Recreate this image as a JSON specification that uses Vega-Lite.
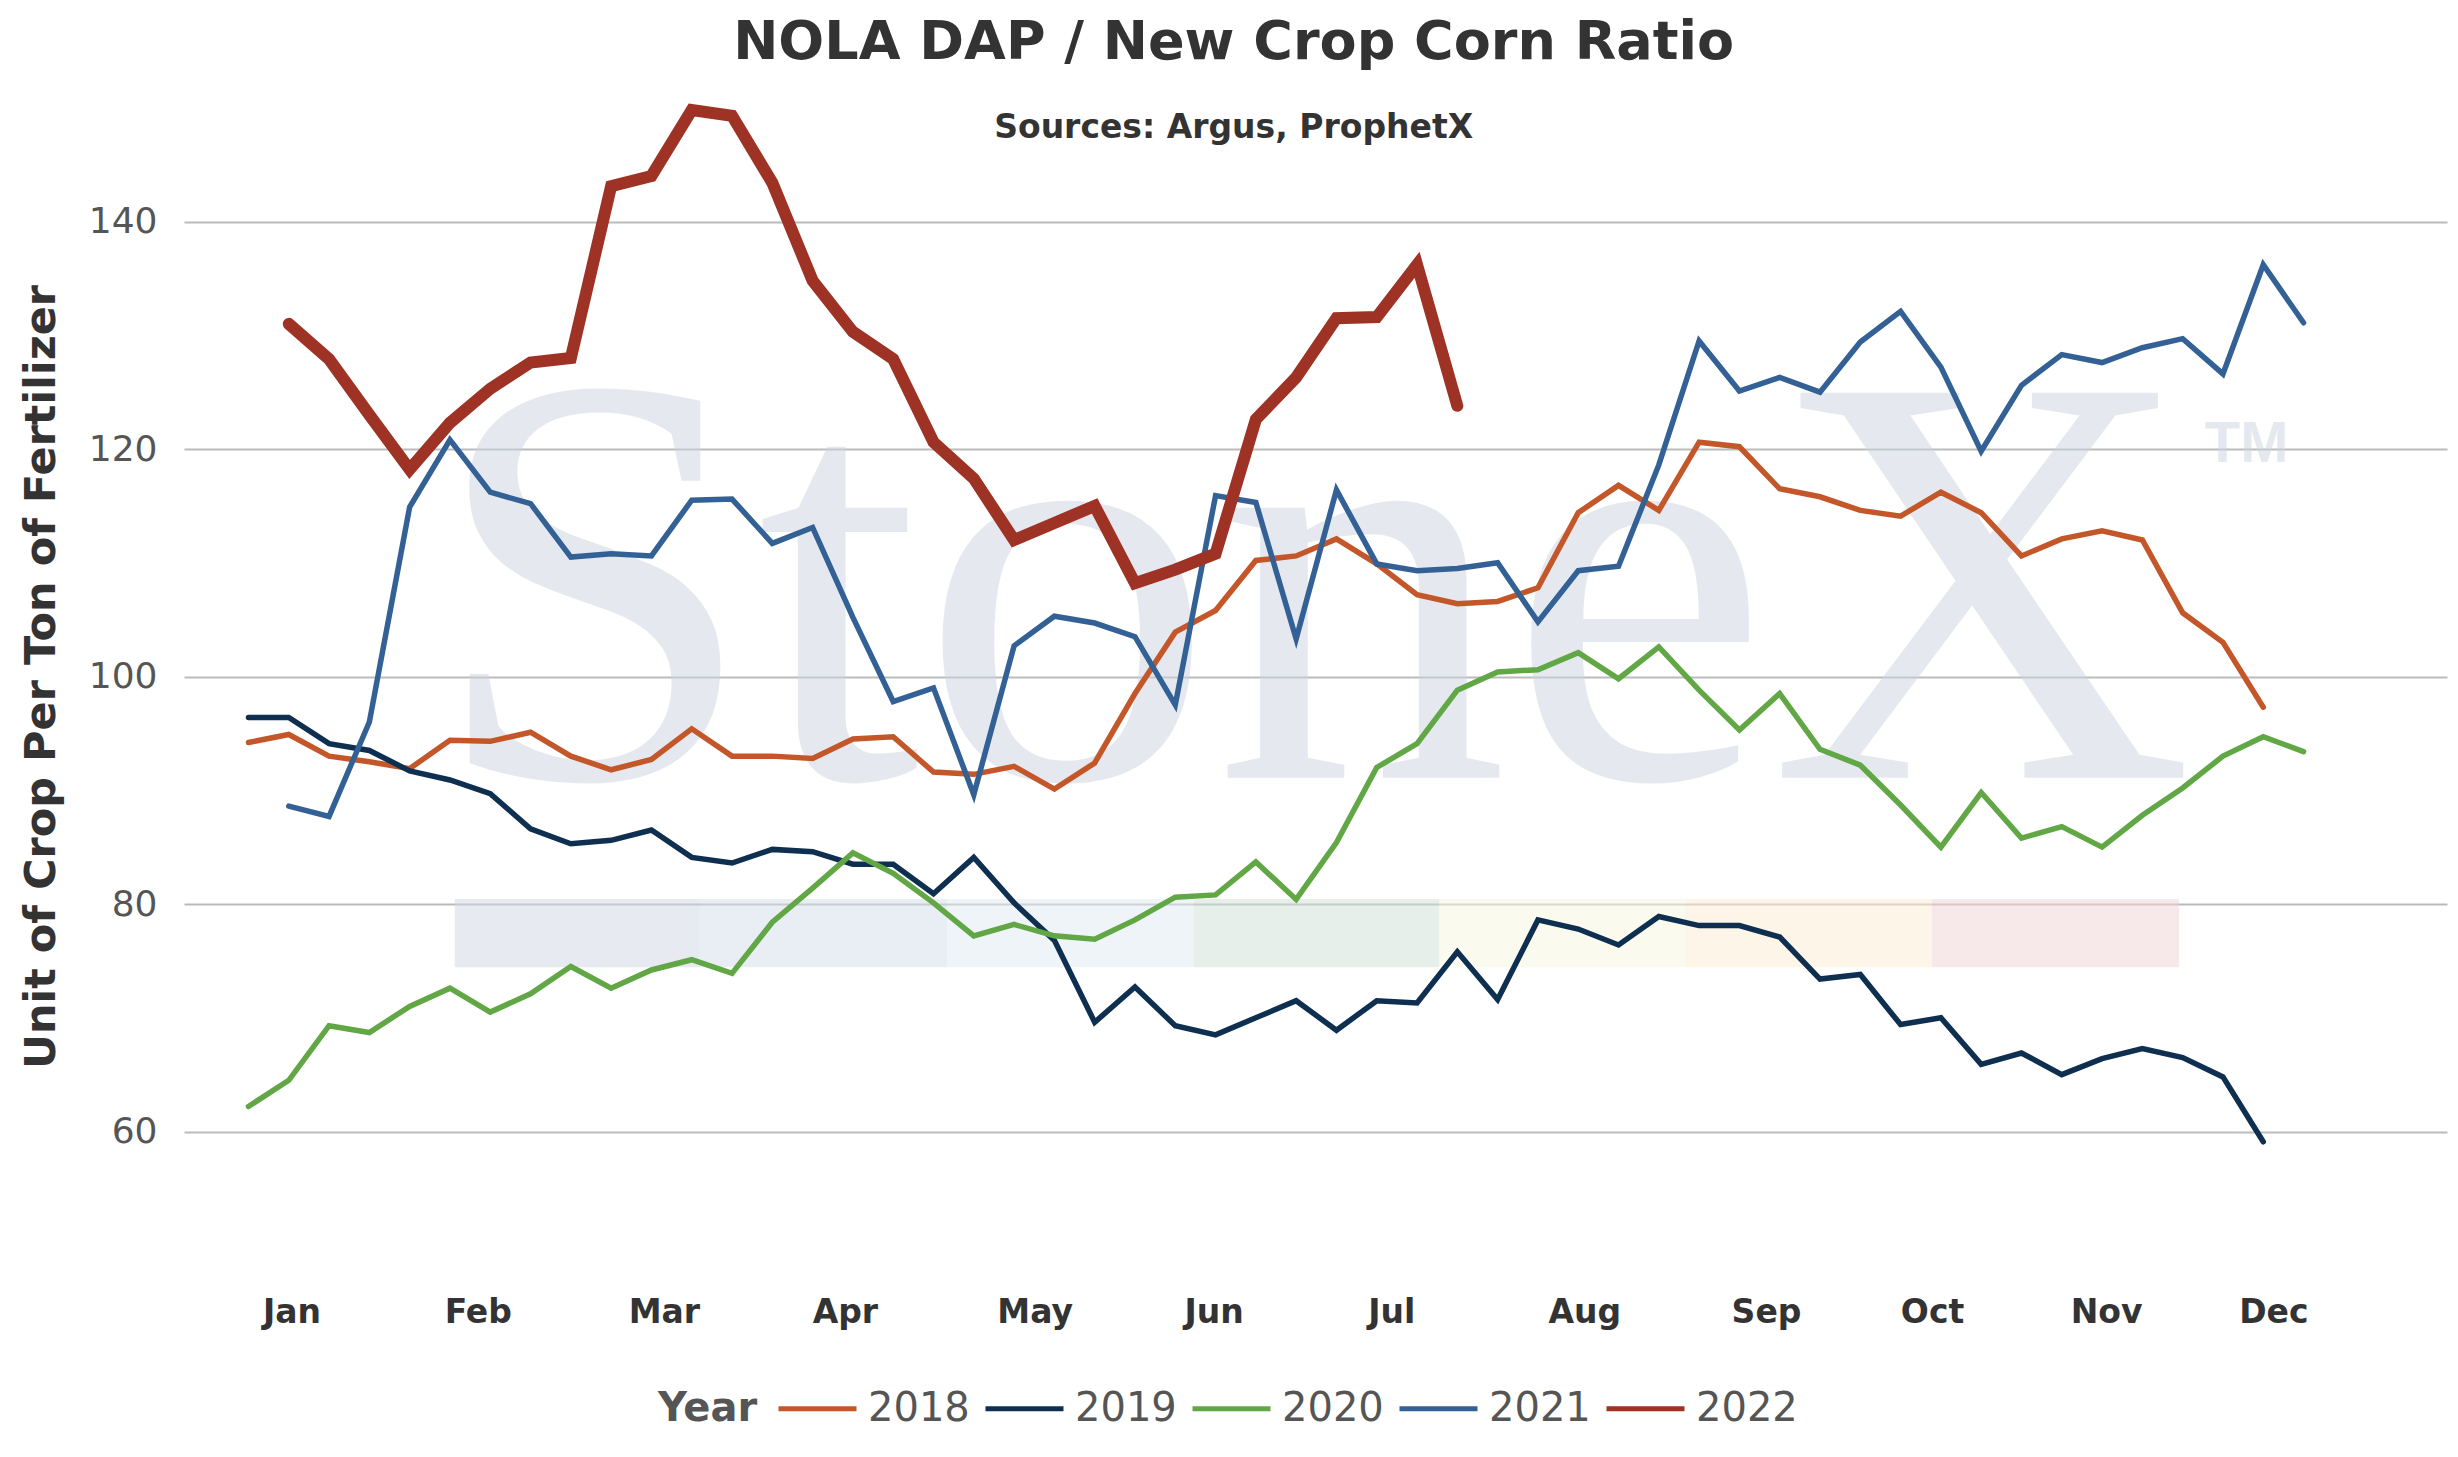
{
  "$schema": "https://vega.github.io/schema/vega-lite/v6.json",
  "width": 2263,
  "height": 1183,
  "autosize": {"type": "none"},
  "padding": {"left": 184, "top": 85, "right": 11, "bottom": 189},
  "background": "white",
  "title": {
    "text": "NOLA DAP / New Crop Corn Ratio",
    "subtitle": "Sources: Argus, ProphetX",
    "anchor": "middle",
    "frame": "bounds",
    "font": "DejaVu Sans",
    "fontSize": 54,
    "fontWeight": "bold",
    "color": "#333333",
    "subtitleFont": "DejaVu Sans",
    "subtitleFontSize": 33,
    "subtitleFontWeight": "bold",
    "subtitleColor": "#333333",
    "subtitlePadding": 42,
    "offset": -60
  },
  "datasets": {
    "band": [
      {"block": "1", "start": 5.12, "end": 11.2},
      {"block": "2", "start": 11.2, "end": 17.34},
      {"block": "3", "start": 17.34, "end": 23.46},
      {"block": "4", "start": 23.46, "end": 29.55},
      {"block": "5", "start": 29.55, "end": 35.66},
      {"block": "6", "start": 35.66, "end": 41.78},
      {"block": "7", "start": 41.78, "end": 47.91}
    ],
    "ratio": [
      {"year": "2018", "week": 0, "value": 94.2}, {"year": "2018", "week": 1, "value": 94.9}, {"year": "2018", "week": 2, "value": 93.0}, {"year": "2018", "week": 3, "value": 92.5}, {"year": "2018", "week": 4, "value": 91.9},
      {"year": "2018", "week": 5, "value": 94.4}, {"year": "2018", "week": 6, "value": 94.3}, {"year": "2018", "week": 7, "value": 95.1}, {"year": "2018", "week": 8, "value": 93.0}, {"year": "2018", "week": 9, "value": 91.8},
      {"year": "2018", "week": 10, "value": 92.7}, {"year": "2018", "week": 11, "value": 95.4}, {"year": "2018", "week": 12, "value": 93.0}, {"year": "2018", "week": 13, "value": 93.0}, {"year": "2018", "week": 14, "value": 92.8},
      {"year": "2018", "week": 15, "value": 94.5}, {"year": "2018", "week": 16, "value": 94.7}, {"year": "2018", "week": 17, "value": 91.6}, {"year": "2018", "week": 18, "value": 91.4}, {"year": "2018", "week": 19, "value": 92.1},
      {"year": "2018", "week": 20, "value": 90.1}, {"year": "2018", "week": 21, "value": 92.4}, {"year": "2018", "week": 22, "value": 98.5}, {"year": "2018", "week": 23, "value": 103.9}, {"year": "2018", "week": 24, "value": 105.8},
      {"year": "2018", "week": 25, "value": 110.2}, {"year": "2018", "week": 26, "value": 110.6}, {"year": "2018", "week": 27, "value": 112.1}, {"year": "2018", "week": 28, "value": 109.9}, {"year": "2018", "week": 29, "value": 107.2},
      {"year": "2018", "week": 30, "value": 106.4}, {"year": "2018", "week": 31, "value": 106.6}, {"year": "2018", "week": 32, "value": 107.8}, {"year": "2018", "week": 33, "value": 114.4}, {"year": "2018", "week": 34, "value": 116.8},
      {"year": "2018", "week": 35, "value": 114.6}, {"year": "2018", "week": 36, "value": 120.6}, {"year": "2018", "week": 37, "value": 120.2}, {"year": "2018", "week": 38, "value": 116.5}, {"year": "2018", "week": 39, "value": 115.8},
      {"year": "2018", "week": 40, "value": 114.6}, {"year": "2018", "week": 41, "value": 114.1}, {"year": "2018", "week": 42, "value": 116.2}, {"year": "2018", "week": 43, "value": 114.4}, {"year": "2018", "week": 44, "value": 110.6},
      {"year": "2018", "week": 45, "value": 112.1}, {"year": "2018", "week": 46, "value": 112.8}, {"year": "2018", "week": 47, "value": 112.0}, {"year": "2018", "week": 48, "value": 105.6}, {"year": "2018", "week": 49, "value": 103.0},
      {"year": "2018", "week": 50, "value": 97.3},
      {"year": "2019", "week": 0, "value": 96.4}, {"year": "2019", "week": 1, "value": 96.4}, {"year": "2019", "week": 2, "value": 94.1}, {"year": "2019", "week": 3, "value": 93.5}, {"year": "2019", "week": 4, "value": 91.7},
      {"year": "2019", "week": 5, "value": 90.9}, {"year": "2019", "week": 6, "value": 89.7}, {"year": "2019", "week": 7, "value": 86.6}, {"year": "2019", "week": 8, "value": 85.3}, {"year": "2019", "week": 9, "value": 85.6},
      {"year": "2019", "week": 10, "value": 86.5}, {"year": "2019", "week": 11, "value": 84.1}, {"year": "2019", "week": 12, "value": 83.6}, {"year": "2019", "week": 13, "value": 84.8}, {"year": "2019", "week": 14, "value": 84.6},
      {"year": "2019", "week": 15, "value": 83.5}, {"year": "2019", "week": 16, "value": 83.5}, {"year": "2019", "week": 17, "value": 80.9}, {"year": "2019", "week": 18, "value": 84.1}, {"year": "2019", "week": 19, "value": 80.1},
      {"year": "2019", "week": 20, "value": 76.8}, {"year": "2019", "week": 21, "value": 69.6}, {"year": "2019", "week": 22, "value": 72.7}, {"year": "2019", "week": 23, "value": 69.3}, {"year": "2019", "week": 24, "value": 68.5},
      {"year": "2019", "week": 25, "value": 70.0}, {"year": "2019", "week": 26, "value": 71.5}, {"year": "2019", "week": 27, "value": 68.9}, {"year": "2019", "week": 28, "value": 71.5}, {"year": "2019", "week": 29, "value": 71.3},
      {"year": "2019", "week": 30, "value": 75.8}, {"year": "2019", "week": 31, "value": 71.6}, {"year": "2019", "week": 32, "value": 78.6}, {"year": "2019", "week": 33, "value": 77.8}, {"year": "2019", "week": 34, "value": 76.4},
      {"year": "2019", "week": 35, "value": 78.9}, {"year": "2019", "week": 36, "value": 78.1}, {"year": "2019", "week": 37, "value": 78.1}, {"year": "2019", "week": 38, "value": 77.1}, {"year": "2019", "week": 39, "value": 73.4},
      {"year": "2019", "week": 40, "value": 73.8}, {"year": "2019", "week": 41, "value": 69.4}, {"year": "2019", "week": 42, "value": 70.0}, {"year": "2019", "week": 43, "value": 65.9}, {"year": "2019", "week": 44, "value": 66.9},
      {"year": "2019", "week": 45, "value": 65.0}, {"year": "2019", "week": 46, "value": 66.4}, {"year": "2019", "week": 47, "value": 67.3}, {"year": "2019", "week": 48, "value": 66.5}, {"year": "2019", "week": 49, "value": 64.8},
      {"year": "2019", "week": 50, "value": 59.1},
      {"year": "2020", "week": 0, "value": 62.2}, {"year": "2020", "week": 1, "value": 64.5}, {"year": "2020", "week": 2, "value": 69.3}, {"year": "2020", "week": 3, "value": 68.7}, {"year": "2020", "week": 4, "value": 71.0},
      {"year": "2020", "week": 5, "value": 72.6}, {"year": "2020", "week": 6, "value": 70.5}, {"year": "2020", "week": 7, "value": 72.1}, {"year": "2020", "week": 8, "value": 74.5}, {"year": "2020", "week": 9, "value": 72.6},
      {"year": "2020", "week": 10, "value": 74.2}, {"year": "2020", "week": 11, "value": 75.1}, {"year": "2020", "week": 12, "value": 73.9}, {"year": "2020", "week": 13, "value": 78.4}, {"year": "2020", "week": 14, "value": 81.4},
      {"year": "2020", "week": 15, "value": 84.5}, {"year": "2020", "week": 16, "value": 82.7}, {"year": "2020", "week": 17, "value": 80.1}, {"year": "2020", "week": 18, "value": 77.2}, {"year": "2020", "week": 19, "value": 78.2},
      {"year": "2020", "week": 20, "value": 77.2}, {"year": "2020", "week": 21, "value": 76.9}, {"year": "2020", "week": 22, "value": 78.6}, {"year": "2020", "week": 23, "value": 80.6}, {"year": "2020", "week": 24, "value": 80.8},
      {"year": "2020", "week": 25, "value": 83.7}, {"year": "2020", "week": 26, "value": 80.4}, {"year": "2020", "week": 27, "value": 85.4}, {"year": "2020", "week": 28, "value": 92.0}, {"year": "2020", "week": 29, "value": 94.1},
      {"year": "2020", "week": 30, "value": 98.8}, {"year": "2020", "week": 31, "value": 100.4}, {"year": "2020", "week": 32, "value": 100.6}, {"year": "2020", "week": 33, "value": 102.1}, {"year": "2020", "week": 34, "value": 99.8},
      {"year": "2020", "week": 35, "value": 102.6}, {"year": "2020", "week": 36, "value": 98.8}, {"year": "2020", "week": 37, "value": 95.3}, {"year": "2020", "week": 38, "value": 98.5}, {"year": "2020", "week": 39, "value": 93.6},
      {"year": "2020", "week": 40, "value": 92.2}, {"year": "2020", "week": 41, "value": 88.7}, {"year": "2020", "week": 42, "value": 85.0}, {"year": "2020", "week": 43, "value": 89.8}, {"year": "2020", "week": 44, "value": 85.8},
      {"year": "2020", "week": 45, "value": 86.8}, {"year": "2020", "week": 46, "value": 85.0}, {"year": "2020", "week": 47, "value": 87.8}, {"year": "2020", "week": 48, "value": 90.2}, {"year": "2020", "week": 49, "value": 93.0},
      {"year": "2020", "week": 50, "value": 94.7}, {"year": "2020", "week": 51, "value": 93.4},
      {"year": "2021", "week": 1, "value": 88.6}, {"year": "2021", "week": 2, "value": 87.7}, {"year": "2021", "week": 3, "value": 96.0}, {"year": "2021", "week": 4, "value": 114.9},
      {"year": "2021", "week": 5, "value": 120.8}, {"year": "2021", "week": 6, "value": 116.2}, {"year": "2021", "week": 7, "value": 115.2}, {"year": "2021", "week": 8, "value": 110.5}, {"year": "2021", "week": 9, "value": 110.8},
      {"year": "2021", "week": 10, "value": 110.6}, {"year": "2021", "week": 11, "value": 115.5}, {"year": "2021", "week": 12, "value": 115.6}, {"year": "2021", "week": 13, "value": 111.7}, {"year": "2021", "week": 14, "value": 113.1},
      {"year": "2021", "week": 15, "value": 105.2}, {"year": "2021", "week": 16, "value": 97.8}, {"year": "2021", "week": 17, "value": 99.0}, {"year": "2021", "week": 18, "value": 89.6}, {"year": "2021", "week": 19, "value": 102.7},
      {"year": "2021", "week": 20, "value": 105.3}, {"year": "2021", "week": 21, "value": 104.7}, {"year": "2021", "week": 22, "value": 103.5}, {"year": "2021", "week": 23, "value": 97.5}, {"year": "2021", "week": 24, "value": 115.9},
      {"year": "2021", "week": 25, "value": 115.3}, {"year": "2021", "week": 26, "value": 103.3}, {"year": "2021", "week": 27, "value": 116.4}, {"year": "2021", "week": 28, "value": 109.9}, {"year": "2021", "week": 29, "value": 109.3},
      {"year": "2021", "week": 30, "value": 109.5}, {"year": "2021", "week": 31, "value": 110.0}, {"year": "2021", "week": 32, "value": 104.8}, {"year": "2021", "week": 33, "value": 109.3}, {"year": "2021", "week": 34, "value": 109.7},
      {"year": "2021", "week": 35, "value": 118.6}, {"year": "2021", "week": 36, "value": 129.5}, {"year": "2021", "week": 37, "value": 125.1}, {"year": "2021", "week": 38, "value": 126.3}, {"year": "2021", "week": 39, "value": 125.0},
      {"year": "2021", "week": 40, "value": 129.4}, {"year": "2021", "week": 41, "value": 132.1}, {"year": "2021", "week": 42, "value": 127.2}, {"year": "2021", "week": 43, "value": 119.8}, {"year": "2021", "week": 44, "value": 125.6},
      {"year": "2021", "week": 45, "value": 128.3}, {"year": "2021", "week": 46, "value": 127.6}, {"year": "2021", "week": 47, "value": 128.9}, {"year": "2021", "week": 48, "value": 129.7}, {"year": "2021", "week": 49, "value": 126.6},
      {"year": "2021", "week": 50, "value": 136.2}, {"year": "2021", "week": 51, "value": 131.1},
      {"year": "2022", "week": 1, "value": 131.0}, {"year": "2022", "week": 2, "value": 127.9}, {"year": "2022", "week": 3, "value": 123.0}, {"year": "2022", "week": 4, "value": 118.2},
      {"year": "2022", "week": 5, "value": 122.3}, {"year": "2022", "week": 6, "value": 125.3}, {"year": "2022", "week": 7, "value": 127.6}, {"year": "2022", "week": 8, "value": 128.0}, {"year": "2022", "week": 9, "value": 143.1},
      {"year": "2022", "week": 10, "value": 144.0}, {"year": "2022", "week": 11, "value": 149.8}, {"year": "2022", "week": 12, "value": 149.3}, {"year": "2022", "week": 13, "value": 143.4}, {"year": "2022", "week": 14, "value": 134.8},
      {"year": "2022", "week": 15, "value": 130.3}, {"year": "2022", "week": 16, "value": 127.9}, {"year": "2022", "week": 17, "value": 120.6}, {"year": "2022", "week": 18, "value": 117.4}, {"year": "2022", "week": 19, "value": 112.0},
      {"year": "2022", "week": 20, "value": 113.5}, {"year": "2022", "week": 21, "value": 115.0}, {"year": "2022", "week": 22, "value": 108.2}, {"year": "2022", "week": 23, "value": 109.4}, {"year": "2022", "week": 24, "value": 110.8},
      {"year": "2022", "week": 25, "value": 122.6}, {"year": "2022", "week": 26, "value": 126.3}, {"year": "2022", "week": 27, "value": 131.5}, {"year": "2022", "week": 28, "value": 131.6}, {"year": "2022", "week": 29, "value": 136.2},
      {"year": "2022", "week": 30, "value": 123.8}
    ]
  },
  "layer": [
    {
      "data": {"name": "band"},
      "mark": {"type": "rect", "opacity": 0.5},
      "encoding": {
        "x": {"field": "start", "type": "quantitative", "scale": {"domain": [-1.6, 54.56], "nice": false, "zero": false}},
        "x2": {"field": "end"},
        "y": {"datum": 80.45, "type": "quantitative", "scale": {"domain": [48, 152], "nice": false, "zero": false}},
        "y2": {"datum": 74.45},
        "fill": {
          "field": "block",
          "type": "nominal",
          "scale": {"range": ["#cfd7e3", "#d3ddeb", "#dfe9f3", "#cddfd3", "#f5f7dd", "#fbebd1", "#efd3d3"]},
          "legend": null
        }
      }
    },
    {
      "data": {"values": [{"mark": "StoneX"}]},
      "mark": {"type": "text", "font": "Liberation Serif", "fontSize": 588, "align": "left", "baseline": "alphabetic", "color": "#cdd5e1", "opacity": 0.5},
      "encoding": {
        "text": {"field": "mark"},
        "x": {"datum": 4.5, "type": "quantitative", "scale": {"domain": [-1.6, 54.56], "nice": false, "zero": false}},
        "y": {"datum": 91.1, "type": "quantitative", "scale": {"domain": [48, 152], "nice": false, "zero": false}}
      }
    },
    {
      "data": {"values": [{"mark": "TM"}]},
      "mark": {"type": "text", "font": "Liberation Sans", "fontWeight": "bold", "fontSize": 58, "align": "left", "baseline": "alphabetic", "color": "#cdd5e1", "opacity": 0.5},
      "encoding": {
        "text": {"field": "mark"},
        "x": {"datum": 48.55, "type": "quantitative", "scale": {"domain": [-1.6, 54.56], "nice": false, "zero": false}},
        "y": {"datum": 118.9, "type": "quantitative", "scale": {"domain": [48, 152], "nice": false, "zero": false}}
      }
    },
    {
      "data": {"name": "ratio"},
      "mark": {"type": "line", "strokeCap": "round"},
      "encoding": {
        "x": {
          "field": "week",
          "type": "quantitative",
          "scale": {"domain": [-1.6, 54.56], "nice": false, "zero": false},
          "axis": {
            "title": null,
            "values": [1.07, 5.69, 10.31, 14.8, 19.51, 23.95, 28.36, 33.15, 37.66, 41.78, 46.1, 50.25],
            "labelExpr": "datum.value < 3 ? 'Jan' : datum.value < 8 ? 'Feb' : datum.value < 12 ? 'Mar' : datum.value < 17 ? 'Apr' : datum.value < 22 ? 'May' : datum.value < 26 ? 'Jun' : datum.value < 31 ? 'Jul' : datum.value < 35 ? 'Aug' : datum.value < 40 ? 'Sep' : datum.value < 44 ? 'Oct' : datum.value < 48 ? 'Nov' : 'Dec'",
            "grid": false,
            "domain": false,
            "ticks": false,
            "tickSize": 0,
            "labelFont": "DejaVu Sans",
            "labelFontSize": 33,
            "labelFontWeight": "bold",
            "labelColor": "#333333",
            "labelPadding": 28,
            "labelOverlap": false,
            "labelFlush": false,
            "labelBound": false
          }
        },
        "y": {
          "field": "value",
          "type": "quantitative",
          "scale": {"domain": [48, 152], "nice": false, "zero": false},
          "axis": {
            "title": "Unit of Crop Per Ton of Fertilizer",
            "titleFont": "DejaVu Sans",
            "titleFontSize": 43,
            "titleFontWeight": "bold",
            "titleColor": "#333333",
            "titlePadding": 25,
            "values": [60, 80, 100, 120, 140],
            "grid": true,
            "gridColor": "#bbbbbb",
            "gridWidth": 2,
            "domain": false,
            "ticks": false,
            "tickSize": 0,
            "labelFont": "DejaVu Sans",
            "labelFontSize": 36,
            "labelColor": "#555555",
            "labelPadding": 27
          }
        },
        "color": {
          "field": "year",
          "type": "nominal",
          "scale": {
            "domain": ["2018", "2019", "2020", "2021", "2022"],
            "range": ["#c4572a", "#0e2f50", "#62a745", "#336195", "#9e3224"]
          },
          "legend": {
            "title": "Year",
            "orient": "none",
            "legendX": 474,
            "legendY": 1282,
            "direction": "horizontal",
            "titleOrient": "left",
            "titleAnchor": "middle",
            "titleBaseline": "line-top",
            "titleLineHeight": 23,
            "padding": 0,
            "titleFont": "DejaVu Sans",
            "titleFontSize": 40,
            "titleFontWeight": "bold",
            "titleColor": "#555555",
            "titlePadding": 18,
            "labelFont": "DejaVu Sans",
            "labelFontSize": 40,
            "labelColor": "#555555",
            "labelOffset": 9,
            "columnPadding": 5,
            "symbolType": "stroke",
            "symbolSize": 6084,
            "symbolStrokeWidth": 5
          }
        },
        "strokeWidth": {
          "condition": {"test": "datum.year === '2022'", "value": 12},
          "value": 5.5
        }
      }
    }
  ],
  "config": {
    "font": "DejaVu Sans",
    "view": {"stroke": null}
  }
}
